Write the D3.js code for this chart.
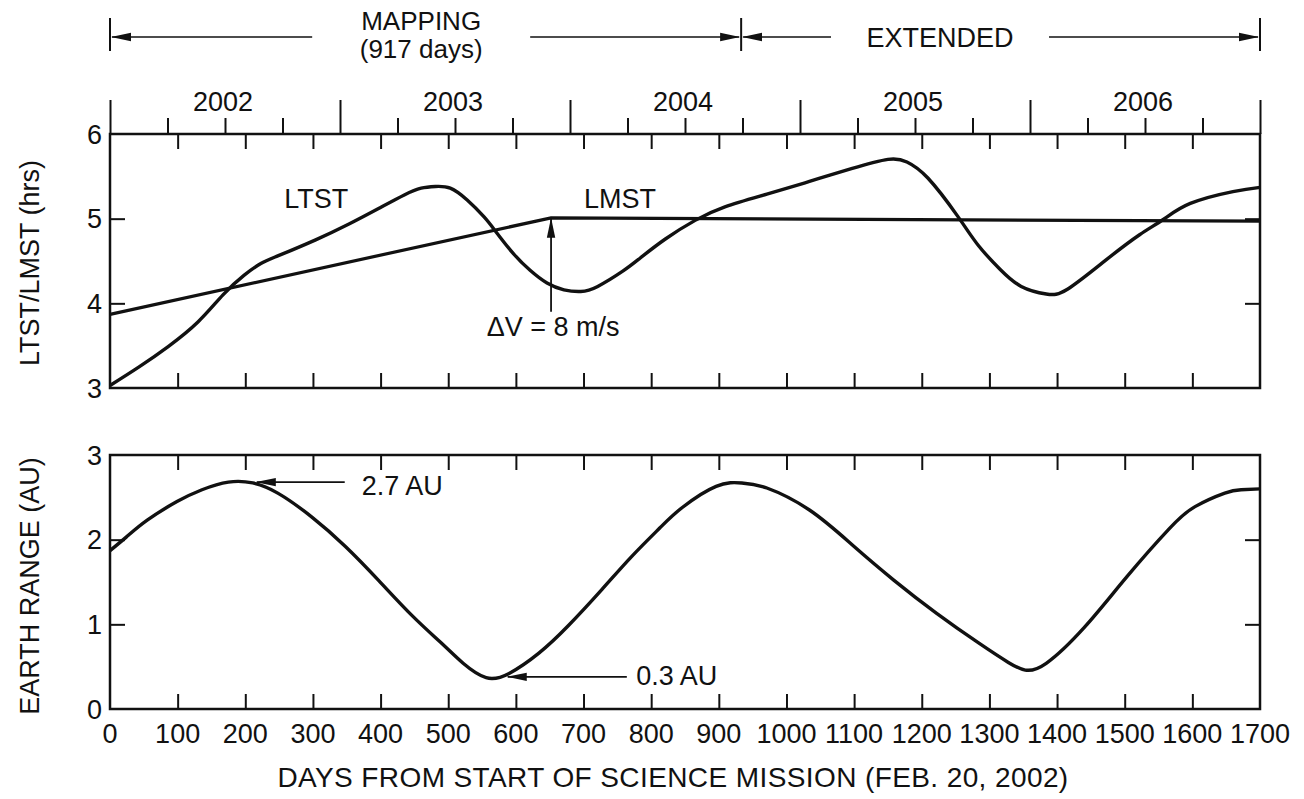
<!DOCTYPE html>
<html>
<head>
<meta charset="utf-8">
<script src="https://cdn.jsdelivr.net/npm/d3@7"></script>
<style>
  body { margin: 0; background: #fff; }
  text { font-family: "Liberation Sans", Arial, Helvetica, sans-serif; fill: #111; }
</style>
</head>
<body>
<div id="chart"></div>
<script>
// values
var dayTicks = [0, 100, 200, 300, 400, 500, 600, 700, 800, 900, 1000, 1100, 1200, 1300, 1400, 1500, 1600, 1700];
var years = ["2002", "2003", "2004", "2005", "2006"];
var hourTicks = [3, 4, 5, 6];
var auTicks = [0, 1, 2, 3];

var ltstDays  = [0, 43, 86, 130, 167, 198, 223, 248, 304, 354, 397, 435, 460, 481, 503, 528, 553, 571, 596, 621, 646, 671, 696, 721, 758, 783, 821, 865, 909, 971, 1034, 1096, 1150, 1178, 1209, 1253, 1284, 1316, 1347, 1384, 1416, 1472, 1522, 1557, 1597, 1660, 1700];
var ltstHours = [3.03, 3.25, 3.49, 3.78, 4.10, 4.33, 4.47, 4.56, 4.75, 4.94, 5.12, 5.28, 5.36, 5.38, 5.36, 5.22, 5.02, 4.84, 4.59, 4.39, 4.24, 4.16, 4.14, 4.20, 4.38, 4.53, 4.76, 4.98, 5.14, 5.29, 5.44, 5.59, 5.70, 5.67, 5.48, 5.03, 4.68, 4.40, 4.20, 4.11, 4.17, 4.51, 4.81, 4.99, 5.18, 5.32, 5.37];

var lmstDays  = [0, 652, 1700];
var lmstHours = [3.87, 5.01, 4.97];

var rangeDays = [0, 24, 55, 99, 136, 175, 211, 248, 298, 348, 397, 447, 491, 522, 556, 590, 634, 677, 727, 771, 813, 846, 896, 934, 971, 1034, 1097, 1159, 1222, 1284, 1328, 1353, 1384, 1441, 1503, 1566, 1604, 1648, 1672, 1700];
var rangeAU   = [1.87, 2.03, 2.23, 2.45, 2.59, 2.68, 2.67, 2.55, 2.27, 1.92, 1.52, 1.10, 0.77, 0.54, 0.37, 0.42, 0.66, 0.98, 1.41, 1.80, 2.14, 2.38, 2.63, 2.67, 2.61, 2.35, 1.94, 1.52, 1.13, 0.78, 0.55, 0.46, 0.54, 0.97, 1.56, 2.13, 2.39, 2.55, 2.59, 2.60];

var phaseNames = ["MAPPING", "EXTENDED"];
var phaseNotes = ["(917 days)", ""];
var phaseEnds  = [0, 933, 1700];

var width = 1304, height = 799;

var svg = d3.select("#chart")
  .append("svg")
    .attr("width", width)
    .attr("height", height);

var x = d3.scaleLinear().domain([0, 1700]).range([110, 1260]);
var yTop = d3.scaleLinear().domain([3, 6]).range([388, 134]);
var yBot = d3.scaleLinear().domain([0, 3]).range([709, 455]);

var ink = "#111";

svg.append("defs").append("marker")
    .attr("id", "head")
    .attr("markerUnits", "userSpaceOnUse")
    .attr("viewBox", "0 0 20 10")
    .attr("markerWidth", 20)
    .attr("markerHeight", 10)
    .attr("refX", 19)
    .attr("refY", 5)
    .attr("orient", "auto")
  .append("path")
    .attr("d", "M0,0.8 L20,5 L0,9.2 Z")
    .attr("fill", ink);

var innerDays = dayTicks.slice(1, -1);

// framed panel, inward ticks on all four sides
function panel(y, yDom, yInner) {
  var g = svg.append("g");
  g.append("rect")
    .attr("x", x(0))
    .attr("y", y(yDom[1]))
    .attr("width", x(1700) - x(0))
    .attr("height", y(yDom[0]) - y(yDom[1]))
    .attr("fill", "none")
    .attr("stroke", ink)
    .attr("stroke-width", 2.5);

  g.append("g").attr("transform", "translate(0," + y(yDom[1]) + ")")
    .call(d3.axisBottom(x).tickValues(innerDays).tickSize(15).tickFormat(""));
  g.append("g").attr("transform", "translate(0," + y(yDom[0]) + ")")
    .call(d3.axisTop(x).tickValues(innerDays).tickSize(15).tickFormat(""));
  g.append("g").attr("transform", "translate(" + x(0) + ",0)")
    .call(d3.axisRight(y).tickValues(yInner).tickSize(15).tickFormat(""));
  g.append("g").attr("transform", "translate(" + x(1700) + ",0)")
    .call(d3.axisLeft(y).tickValues(yInner).tickSize(15).tickFormat(""));
  g.selectAll(".domain").remove();
  g.selectAll(".tick line").attr("stroke", ink).attr("stroke-width", 2);
  return g;
}

panel(yTop, [3, 6], [4, 5]);
panel(yBot, [0, 3], [1, 2]);

// y tick labels
svg.selectAll(".hlab").data(hourTicks).enter().append("text")
  .attr("class", "hlab")
  .attr("x", x(0) - 8)
  .attr("y", function(d) { return yTop(d); })
  .attr("dy", "0.36em")
  .attr("text-anchor", "end")
  .style("font-size", "27px")
  .text(function(d) { return d; });

svg.selectAll(".alab").data(auTicks).enter().append("text")
  .attr("class", "alab")
  .attr("x", x(0) - 8)
  .attr("y", function(d) { return yBot(d); })
  .attr("dy", "0.36em")
  .attr("text-anchor", "end")
  .style("font-size", "27px")
  .text(function(d) { return d; });

// x tick labels
svg.selectAll(".dlab").data(dayTicks).enter().append("text")
  .attr("class", "dlab")
  .attr("x", function(d) { return x(d); })
  .attr("y", 743)
  .attr("text-anchor", "middle")
  .style("font-size", "27px")
  .text(function(d) { return d; });

// axis titles
svg.append("text")
  .attr("x", (x(0) + x(1700)) / 2 - 12)
  .attr("y", 787)
  .attr("text-anchor", "middle")
  .style("font-size", "28px")
  .style("letter-spacing", "0.4px")
  .text("DAYS FROM START OF SCIENCE MISSION (FEB. 20, 2002)");

svg.append("text")
  .attr("transform", "translate(39," + ((yTop(3) + yTop(6)) / 2 + 2) + ") rotate(-90)")
  .attr("text-anchor", "middle")
  .style("font-size", "27px")
  .text("LTST/LMST (hrs)");

svg.append("text")
  .attr("transform", "translate(39," + ((yBot(0) + yBot(3)) / 2 + 4) + ") rotate(-90)")
  .attr("text-anchor", "middle")
  .style("font-size", "27px")
  .text("EARTH RANGE (AU)");

// year axis above the top panel
var yearScale = d3.scaleLinear().domain([0, years.length]).range([x(0), x(1700)]);
var gy = svg.append("g").attr("transform", "translate(0," + yTop(6) + ")");
gy.append("g").call(d3.axisTop(yearScale).tickValues(d3.range(0, years.length + 1)).tickSize(34).tickFormat(""));
gy.append("g").call(d3.axisTop(yearScale)
  .tickValues(d3.range(0, years.length, 0.25).filter(function(v) { return v % 1 !== 0; }))
  .tickSize(16).tickFormat(""));
gy.selectAll(".domain").remove();
gy.selectAll(".tick line").attr("stroke", ink).attr("stroke-width", 2);

svg.selectAll(".ylab").data(years).enter().append("text")
  .attr("class", "ylab")
  .attr("x", function(d, i) { return yearScale(i + 0.5) - 2; })
  .attr("y", 111)
  .attr("text-anchor", "middle")
  .style("font-size", "27px")
  .text(function(d) { return d; });

// mission phase bar
var barY = 37;
phaseEnds.forEach(function(d) {
  svg.append("line")
    .attr("x1", x(d)).attr("x2", x(d))
    .attr("y1", barY - 19).attr("y2", barY + 14)
    .attr("stroke", ink).attr("stroke-width", 2);
});

var phaseLabelDay = [460, 1227];
phaseNames.forEach(function(name, i) {
  var cx = x(phaseLabelDay[i]);
  var gap = 109;
  svg.append("line")
    .attr("x1", cx - gap).attr("y1", barY)
    .attr("x2", x(phaseEnds[i]) + 2).attr("y2", barY)
    .attr("stroke", ink).attr("stroke-width", 1.6)
    .attr("marker-end", "url(#head)");
  svg.append("line")
    .attr("x1", cx + gap).attr("y1", barY)
    .attr("x2", x(phaseEnds[i + 1]) - 2).attr("y2", barY)
    .attr("stroke", ink).attr("stroke-width", 1.6)
    .attr("marker-end", "url(#head)");
  if (phaseNotes[i]) {
    svg.append("text").attr("x", cx).attr("y", 30)
      .attr("text-anchor", "middle").style("font-size", "26px").text(name);
    svg.append("text").attr("x", cx).attr("y", 58)
      .attr("text-anchor", "middle").style("font-size", "26px").text(phaseNotes[i]);
  } else {
    svg.append("text").attr("x", cx).attr("y", barY).attr("dy", "0.36em")
      .attr("text-anchor", "middle").style("font-size", "27px").text(name);
  }
});

// curves
var lineTop = d3.line()
  .x(function(d) { return x(d[0]); })
  .y(function(d) { return yTop(d[1]); });

var lineBot = d3.line()
  .x(function(d) { return x(d[0]); })
  .y(function(d) { return yBot(d[1]); })
  .curve(d3.curveNatural);

svg.append("path")
  .datum(d3.zip(lmstDays, lmstHours))
  .attr("d", lineTop.curve(d3.curveLinear))
  .attr("fill", "none").attr("stroke", ink).attr("stroke-width", 3.2);

svg.append("path")
  .datum(d3.zip(ltstDays, ltstHours))
  .attr("d", lineTop.curve(d3.curveNatural))
  .attr("fill", "none").attr("stroke", ink).attr("stroke-width", 3.4)
  .attr("stroke-linejoin", "round");

svg.append("path")
  .datum(d3.zip(rangeDays, rangeAU))
  .attr("d", lineBot)
  .attr("fill", "none").attr("stroke", ink).attr("stroke-width", 3.4)
  .attr("stroke-linejoin", "round");

// annotations
svg.append("text").attr("x", x(305)).attr("y", yTop(5.13))
  .attr("text-anchor", "middle").style("font-size", "27px").text("LTST");
svg.append("text").attr("x", x(754)).attr("y", yTop(5.13))
  .attr("text-anchor", "middle").style("font-size", "27px").text("LMST");

svg.append("line")
  .attr("x1", x(652)).attr("y1", yTop(3.90))
  .attr("x2", x(652)).attr("y2", yTop(5.0))
  .attr("stroke", ink).attr("stroke-width", 1.8)
  .attr("marker-end", "url(#head)");
svg.append("text").attr("x", x(655)).attr("y", yTop(3.61))
  .attr("text-anchor", "middle").style("font-size", "27px").text("\u0394V = 8 m/s");

svg.append("line")
  .attr("x1", x(347)).attr("y1", yBot(2.68))
  .attr("x2", x(217)).attr("y2", yBot(2.68))
  .attr("stroke", ink).attr("stroke-width", 1.8)
  .attr("marker-end", "url(#head)");
svg.append("text").attr("x", x(372)).attr("y", yBot(2.53))
  .style("font-size", "27px").text("2.7 AU");

svg.append("line")
  .attr("x1", x(764)).attr("y1", yBot(0.38))
  .attr("x2", x(588)).attr("y2", yBot(0.38))
  .attr("stroke", ink).attr("stroke-width", 1.8)
  .attr("marker-end", "url(#head)");
svg.append("text").attr("x", x(778)).attr("y", yBot(0.28))
  .style("font-size", "27px").text("0.3 AU");
</script>
</body>
</html>
